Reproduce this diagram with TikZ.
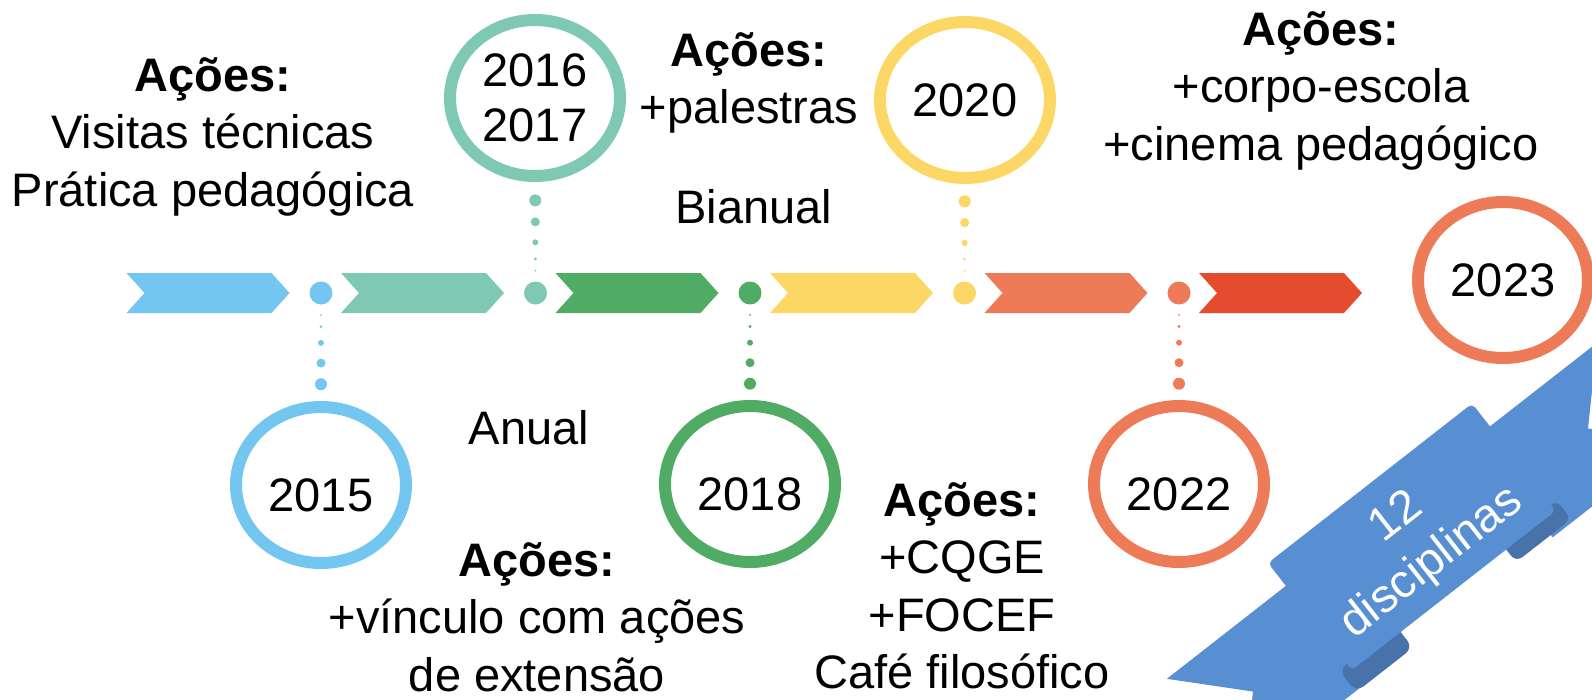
\documentclass[tikz,border=0pt]{standalone}
\usepackage{fontspec}
\setmainfont{Liberation Sans}
\usetikzlibrary{shapes.geometric,calc}
\definecolor{cblue}{RGB}{114,198,240}
\definecolor{cteal}{RGB}{126,200,180}
\definecolor{cgreen}{RGB}{80,172,100}
\definecolor{cyellow}{RGB}{253,215,102}
\definecolor{corange}{RGB}{238,123,88}
\definecolor{cred}{RGB}{228,76,45}
\definecolor{banner}{RGB}{88,142,210}
\definecolor{bannerdark}{RGB}{72,114,170}
\tikzset{
  txt/.style={font=\fontsize{47}{57.5}\selectfont,align=center,inner sep=0pt},
  ring/.style={ellipse,draw=#1,line width=12pt,minimum width=170pt,minimum height=156pt,
    inner sep=0pt,align=center,font=\fontsize{47}{55}\selectfont},
  low/.style={text height=54pt},
  tdot/.style={circle,fill=#1,minimum size=23pt,inner sep=0pt}
}

\begin{document}
\begin{tikzpicture}[x=1pt,y=-1pt]
\useasboundingbox (0,0) rectangle (1592,699);
\clip (0,0) rectangle (1592,699);
\foreach \col [count=\i from 0] in {cblue,cteal,cgreen,cyellow,corange,cred}
  \fill[\col] ({126.5+214.5*\i},273) -- ++(145,0) -- ++(18,20) -- ++(-18,20) -- ++(-145,0) -- ++(18,-20) -- cycle;
\node[tdot=cblue] (d1) at (321,293) {};
\node[tdot=cteal] (d2) at (535.5,293) {};
\node[tdot=cgreen] (d3) at (750,293) {};
\node[tdot=cyellow] (d4) at (964.5,293) {};
\node[tdot=corange] (d5) at (1179,293) {};
\node[ring=cblue,low] (r2015) at (321,485) {2015};
\node[ring=cteal] (r2016) at (535,98) {2016\\2017};
\node[ring=cgreen,low] (r2018) at (750,484) {2018};
\node[ring=cyellow] (r2020) at (965,100) {2020};
\node[ring=corange,low] (r2022) at (1179,484) {2022};
\node[ring=corange] (r2023) at (1503,280) {2023};
\foreach \dt/\rg/\col in {d1/r2015/cblue,d2/r2016/cteal,d3/r2018/cgreen,d4/r2020/cyellow,d5/r2022/corange}
  \foreach \f/\r in {0.115/1,0.175/1.6,0.26/3,0.365/4.5,0.475/6}
    \fill[\col] ($(\dt)!\f!(\rg)$) circle[radius=\r];
\node[txt,anchor=north] (act15) at (213,57) {\textbf{Ações:}\\Visitas técnicas\\Prática pedagógica};
\node[txt,anchor=north] (act17) at (749,32) {\textbf{Ações:}\\+palestras};
\node[txt,anchor=base] (bianual) at (754,223) {Bianual};
\node[txt,anchor=base] (anual) at (529,444) {Anual};
\node[txt,anchor=north] (act18) at (537,542) {\textbf{Ações:}\\+vínculo com ações\\de extensão};
\node[txt,anchor=north] (act20) at (962,482) {\textbf{Ações:}\\+CQGE\\+FOCEF\\Café filosófico};
\node[txt,anchor=north] (act23) at (1321,11) {\textbf{Ações:}\\+corpo-escola\\+cinema pedagógico};
\begin{scope}[shift={(1268,563)},rotate=38]
\fill[banner] (-151,29) -- (20,29) -- (20,155) -- (-151,155) -- (-91,92) -- cycle;
\fill[banner] (240,29) -- (395,29) -- (335,91) -- (395,155) -- (240,155) -- cycle;
\fill[bannerdark,rounded corners=9] (-10,128) rectangle (62,156);
\fill[bannerdark,rounded corners=8] (196,128) rectangle (266,152);
\fill[banner,rounded corners=5] (0,0) rectangle (259,136);
\node[text=white,font=\fontsize{47}{57}\selectfont,align=center,transform shape] (ribbon) at (129.5,73) {12\\disciplinas};
\end{scope}
\end{tikzpicture}
\end{document}
